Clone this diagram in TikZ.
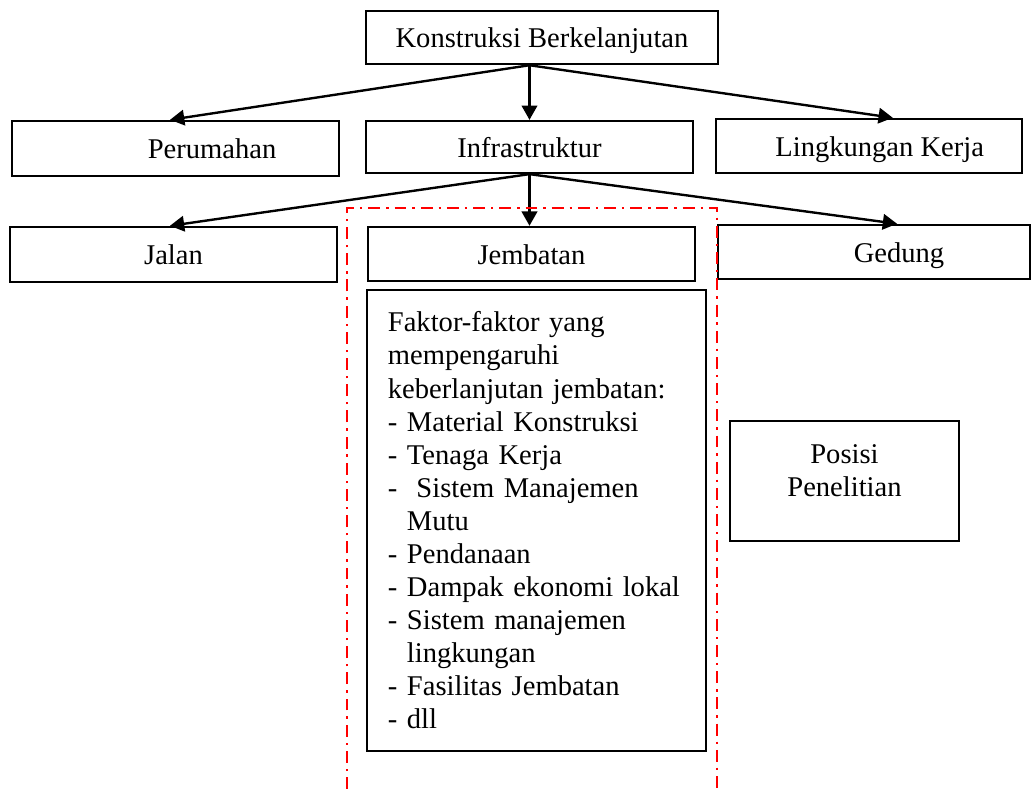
\documentclass[tikz,border=0pt]{standalone}
\usepackage{fontspec}
\setmainfont{Liberation Serif}
\usetikzlibrary{arrows.meta}
\definecolor{batasred}{RGB}{255,0,0}
\tikzset{
  every node/.style={font=\fontsize{12}{13.9}\selectfont},
  kotak/.style={draw, line width=1pt, inner sep=0pt},
  satu/.style={kotak, text height=9.5pt, text depth=0.7pt},
  panah/.style={-{Triangle[length=6pt,width=6.5pt]}, line width=1pt},
  batas/.style={batasred, line width=1pt, dash pattern=on 5pt off 2.5pt on 1pt off 2.5pt},
}

\begin{document}
\begin{tikzpicture}[x=0.42pt,y=-0.42pt]
  \useasboundingbox (0,0) rectangle (1034,789);
  % tingkat atas
  \node[satu, minimum width=147.8pt, minimum height=22.3pt] (konstruksi) at (542,37.5) {Konstruksi Berkelanjutan};
  \node[satu, minimum width=137.3pt, minimum height=23.1pt] (perumahan) at (175.5,148.5) {\hspace*{30.7pt}Perumahan};
  \node[satu, minimum width=137.3pt, minimum height=21.8pt] (infra) at (529.5,147) {Infrastruktur};
  \node[satu, minimum width=128.5pt, minimum height=22.7pt] (lingkungan) at (869,146) {\hspace*{9pt}Lingkungan Kerja};
  % jenis infrastruktur
  \node[satu, minimum width=137.3pt, minimum height=23.1pt] (jalan) at (173.5,254.5) {Jalan};
  \node[satu, minimum width=137.3pt, minimum height=22.7pt] (jembatan) at (531.5,254) {Jembatan};
  \node[satu, minimum width=131pt, minimum height=22.7pt] (gedung) at (874,252) {\hspace*{21pt}Gedung};
  \node[kotak, inner xsep=8.8pt, text width=124.8pt, minimum height=193.6pt, align=left] (faktor) at (536.5,520.5) {%
    Faktor-faktor yang\\
    mempengaruhi\\
    keberlanjutan jembatan:\\
    - Material Konstruksi\\
    - Tenaga Kerja\\
    -~ Sistem Manajemen\\
    \phantom{-~}Mutu\\
    - Pendanaan\\
    - Dampak ekonomi lokal\\
    - Sistem manajemen\\
    \phantom{-~}lingkungan\\
    - Fasilitas Jembatan\\
    - dll};
  \node[kotak, minimum width=96.2pt, minimum height=50.4pt, align=center] (posisi) at (844.5,481) {Posisi\\Penelitian\rule[-9pt]{0pt}{0pt}};

  \draw[panah] (konstruksi.south -| infra.north) -- (infra.north);
  \draw[panah] (konstruksi.south -| infra.north) -- ([xshift=-2.3pt]perumahan.north);
  \draw[panah] (konstruksi.south -| infra.north) -- ([xshift=10pt]lingkungan.north);

  \draw[panah] (infra.south) -- (jembatan.north -| infra.south);
  \draw[panah] (infra.south) -- ([xshift=-1.5pt]jalan.north);
  \draw[panah] (infra.south) -- ([xshift=9.7pt]gedung.north);

  % batas posisi penelitian
  \draw[batas] (347,789) -- (347,208) -- (717,208) -- (717,789);
\end{tikzpicture}
\end{document}
